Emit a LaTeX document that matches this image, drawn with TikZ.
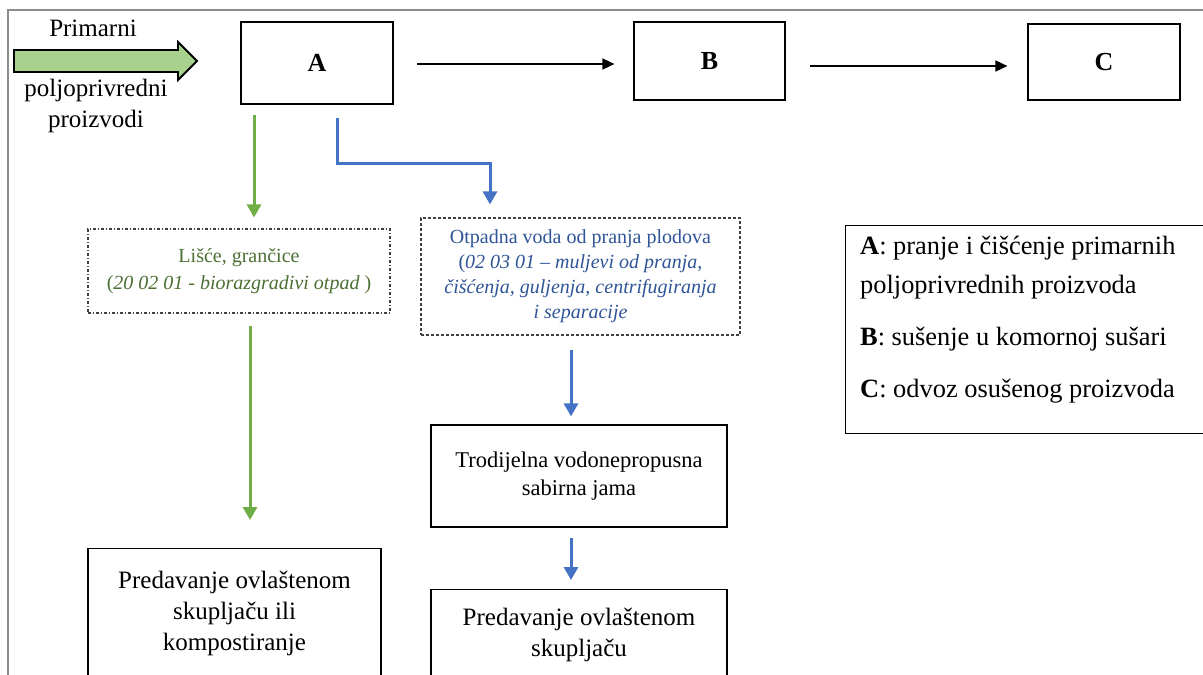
\documentclass[tikz,border=0pt]{standalone}
\usepackage{fontspec}
\setmainfont{Liberation Serif}
\usepackage{tikz}
\usetikzlibrary{positioning,arrows.meta,calc}
\definecolor{zelena}{HTML}{70AD47}
\definecolor{zeltekst}{HTML}{4B6F33}
\definecolor{plava}{HTML}{4472C4}
\definecolor{plavtekst}{HTML}{2F5597}
\definecolor{strelica}{HTML}{A9D18E}

\begin{document}
\begin{tikzpicture}[x=1pt,y=-1pt,
  kutija/.style={draw,line width=1.2,inner sep=0,align=center,font=\fontsize{25}{31}\selectfont},
  crtkana/.style={draw=black!75,line width=1.1,inner sep=0,align=center,font=\fontsize{20}{27}\selectfont},
  tok/.style={line width=1.6,-{Triangle[length=12,width=11]}},
  zel/.style={draw=zelena,line width=3,-{Triangle[length=13,width=14]}},
  plv/.style={draw=plava,line width=3,-{Triangle[length=13,width=14]}}]
\useasboundingbox (0,0) rectangle (1203,675);
% okvir
\draw[black!45,line width=2] (8,700) -- (8,10) -- (1220,10);
% ulaz
\draw[fill=strelica,line width=1.8] (14,50) -- (178,50) -- (178,42) -- (197,61) -- (178,80) -- (178,72) -- (14,72) -- cycle;
\node[font=\fontsize{25}{31}\selectfont] (prim) at (93,28) {Primarni};
\node[font=\fontsize{25}{31}\selectfont,align=center,inner sep=0] (polj) at (96,106) {poljoprivredni\\proizvodi};
% faze
\node[kutija,minimum width=152,minimum height=82,font=\fontsize{26}{31}\selectfont\bfseries] (A) at (317,63) {A};
\node[kutija,minimum width=151,minimum height=78,font=\fontsize{26}{31}\selectfont\bfseries] (B) at (709.5,61) {B};
\node[kutija,minimum width=152,minimum height=76,font=\fontsize{26}{31}\selectfont\bfseries] (C) at (1104,62) {C};
\coordinate (ab) at (417,64);
\coordinate (bc) at (810,66);
\draw[tok,shorten >=19] (ab) -- (ab -| B.west);
\draw[tok,shorten >=20] (bc) -- (bc -| C.west);
% otpad
\node[crtkana,dash pattern=on 3 off 2 on 1 off 2,text=zeltekst,minimum width=302,minimum height=84] (lisce) at (239,271)
  {Lišće, grančice\\(\textit{20 02 01 - biorazgradivi otpad} )};
\node[crtkana,dash pattern=on 3 off 2,text=plavtekst,minimum width=319,minimum height=117,font=\fontsize{20}{25}\selectfont] (voda) at (580.5,276.5)
  {Otpadna voda od pranja plodova\\(\textit{02 03 01 -- muljevi od pranja,}\\\textit{čišćenja, guljenja, centrifugiranja}\\\textit{i separacije}};
\node[kutija,minimum width=296,minimum height=102,font=\fontsize{22.5}{28}\selectfont] (jama) at (579,476) {Trodijelna vodonepropusna\\sabirna jama};
\node[kutija,anchor=north,minimum width=293,minimum height=130] (kompost) at (234.5,548) {Predavanje ovlaštenom\\skupljaču ili\\kompostiranje};
\node[kutija,anchor=north,minimum width=296,minimum height=90] (skupljac) at (579,589) {Predavanje ovlaštenom\\skupljaču};
\coordinate (g1) at (254,115);
\coordinate (g2) at (250,326);
\coordinate (b1) at (337,118);
\coordinate (b2) at (490,163);
\coordinate (b3) at (571,350);
\coordinate (b4) at (571,538);
\draw[zel,shorten >=11] (g1) -- (g1 |- lisce.north);
\draw[plv,shorten >=13] (b1) |- (b2) -- (b2 |- voda.north);
\draw[zel,shorten >=28] (g2) -- (g2 |- kompost.north);
\draw[plv,shorten >=8] (b3) -- (b3 |- jama.north);
\draw[plv,shorten >=9] (b4) -- (b4 |- skupljac.north);
% legenda
\node[draw,line width=1.2,anchor=north west,minimum width=370,minimum height=208,inner sep=0] (leg) at (845,225) {};
\node[anchor=north west,align=left,inner sep=0,font=\fontsize{26.4}{39}\selectfont] (legtekst) at (860,236)
  {\textbf{A}: pranje i čišćenje primarnih\\poljoprivrednih proizvoda\\[13pt]\textbf{B}: sušenje u komornoj sušari\\[13pt]\textbf{C}: odvoz osušenog proizvoda};
\end{tikzpicture}
\end{document}
